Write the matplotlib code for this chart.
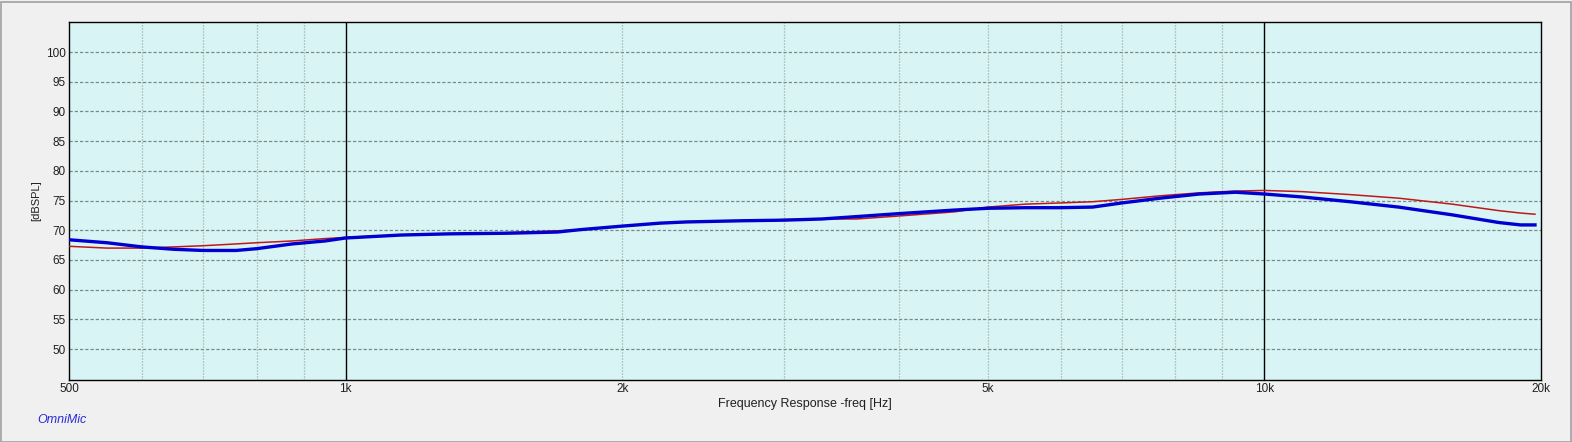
import matplotlib
matplotlib.use("Agg")
import matplotlib.pyplot as plt
from matplotlib.patches import Rectangle

plt.rcParams['font.family'] = ['Liberation Sans', 'DejaVu Sans']

freq = [500, 550, 600, 650, 700, 760, 800, 875, 950, 1000, 1150, 1300, 1500, 1700,
        1800, 2000, 2200, 2350, 2700, 3000, 3300, 3600, 4000, 4600, 5000, 5500, 6000,
        6500, 7000, 7700, 8500, 9300, 10000, 11000, 12400, 14000, 16000, 18000, 19000, 19700]
blue = [68.4, 67.9, 67.2, 66.8, 66.6, 66.6, 66.9, 67.7, 68.2, 68.7, 69.2, 69.4, 69.5, 69.7,
        70.1, 70.7, 71.2, 71.4, 71.6, 71.7, 71.9, 72.3, 72.8, 73.4, 73.7, 73.8, 73.8,
        73.9, 74.6, 75.4, 76.1, 76.4, 76.1, 75.6, 74.8, 73.9, 72.6, 71.3, 70.9, 70.9]
red = [67.3, 67.0, 67.0, 67.2, 67.4, 67.7, 67.9, 68.2, 68.6, 68.8, 69.2, 69.4, 69.6, 69.9,
       70.1, 70.7, 71.2, 71.4, 71.6, 71.8, 71.9, 71.9, 72.4, 73.1, 73.9, 74.4, 74.6,
       74.8, 75.2, 75.8, 76.3, 76.6, 76.7, 76.5, 76.0, 75.4, 74.4, 73.3, 72.9, 72.7]

xticks = [500, 1000, 2000, 5000, 10000, 20000]
xticklabels = ['500', '1k', '2k', '5k', '10k', '20k']
yticks = [50, 55, 60, 65, 70, 75, 80, 85, 90, 95, 100]
minor_x = [600, 700, 800, 900, 2000, 3000, 4000, 5000, 6000, 7000, 8000, 9000]
major_x = [1000, 10000]

fig = plt.figure(figsize=(15.72, 4.42), dpi=100, facecolor='#f0f0f0')
ax = fig.add_axes([69/1572, 1-380/442, (1541-69)/1572, (380-22)/442])
ax.set_facecolor('#d9f4f4')
ax.set_xscale('log')
ax.set_xlim(500, 20000)
ax.set_ylim(44.8, 105.05)

for y in yticks:
    ax.axhline(y, color='#7a8a8a', lw=0.9, dashes=(2.6, 1.6), zorder=1)
for x in minor_x:
    ax.axvline(x, color='#8a9a9a', lw=0.9, dashes=(0.8, 1.6), zorder=1)
for x in major_x:
    ax.axvline(x, color='black', lw=1.0, zorder=1.5)

ax.plot(freq, red, color='#c01818', lw=1.1, zorder=3)
ax.plot(freq, blue, color='#0000d0', lw=2.4, zorder=4)

ax.set_xticks(xticks)
ax.set_xticklabels(xticklabels)
ax.set_xticks([], minor=True)
ax.set_yticks(yticks)
ax.set_yticklabels([str(v) for v in yticks])
ax.tick_params(axis='both', length=0, labelsize=8.5, colors='#202020')
ax.tick_params(axis='x', pad=2.5)
ax.tick_params(axis='y', pad=2.5)
for s in ax.spines.values():
    s.set_color('black')
    s.set_linewidth(1.0)

ax.set_xlabel('Frequency Response -freq [Hz]', fontsize=9, color='#202020', labelpad=2)
ax.set_ylabel('[dBSPL]', fontsize=8, color='#202020', labelpad=3)

fig.text(37/1572, 1-420/442, 'OmniMic', color='#2a2ad8', fontsize=9, style='italic',
         va='center', ha='left')

fig.patches.append(Rectangle((0.5/1572, 0.5/442), 1-2/1572, 1-2/442, transform=fig.transFigure,
                             fill=False, edgecolor='#a0a0a0', lw=1.2))

fig.savefig('out.png', dpi=100, facecolor=fig.get_facecolor())
